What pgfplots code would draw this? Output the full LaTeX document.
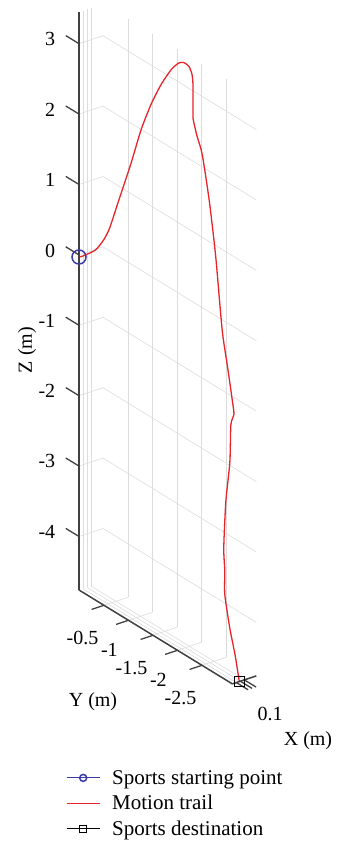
\documentclass[border=0pt]{standalone}
\usepackage{pgfplots}
\pgfplotsset{compat=1.18}
\usepackage{fontspec}
\setmainfont{Liberation Serif}
\definecolor{trailred}{HTML}{E8232A}
\definecolor{startblue}{HTML}{3B3BA8}
\definecolor{gridgray}{HTML}{DCDCDC}
\definecolor{axisgray}{HTML}{404040}
\begin{document}
\begin{tikzpicture}[font=\fontsize{20}{24}\selectfont]
\begin{axis}[
 x={(8000pt,2666.67pt)}, y={(-49pt,30pt)}, z={(0pt,70.4pt)},
 xmin=0.0985, xmax=0.1015, ymin=-3.12, ymax=0.01, zmin=-4.76, zmax=3.45,
 clip=false,
 xtick={0.099,0.0995,0.1}, xticklabels={,,0.1},
 ytick={-2.5,-2,-1.5,-1,-0.5}, yticklabels={-2.5,-2,-1.5,-1,-0.5},
 ztick={-4,-3,-2,-1,0,1,2,3}, zticklabels={-4,-3,-2,-1,0,1,2,3},
 xtick pos=left, ytick pos=left, ztick pos=left,
 grid=major, grid style={gridgray, line width=0.6pt},
 axis line style={draw=none},
 tick align=outside, major tick length=12pt,
 tick style={draw=none},
 xticklabel style={xshift=8pt, yshift=-15pt},
 yticklabel style={xshift=1pt, yshift=-14pt},
 zticklabel style={xshift=-10pt, yshift=-3pt},
 xlabel={X (m)}, ylabel={Y (m)}, zlabel={Z (m)},
 xlabel style={at={(axis cs:0.0985,0.01,-4.76)}, xshift=229pt, yshift=-151pt, anchor=center},
 ylabel style={at={(axis cs:0.0985,0.01,-4.76)}, xshift=14pt, yshift=-112pt, anchor=center},
 zlabel style={at={(axis cs:0.0985,0.01,-4.76)}, xshift=240pt, yshift=52pt, anchor=center},
 legend style={at={(axis cs:0.0985,0.01,-4.76)}, anchor=north west, xshift=-16pt, yshift=-176pt, draw=none, fill=none, row sep=5.5pt, column sep=10pt, font=\fontsize{21}{25}\selectfont},
 legend cell align=left,
 legend image code/.code={\draw[mark repeat=2,mark phase=2,#1] plot coordinates {(0cm,0cm) (0.58cm,0cm) (1.16cm,0cm)};},
 legend image post style={mark size=3.5pt, line width=1pt},
]
\addplot3[startblue, line width=1.5pt, mark=o, mark size=7pt, mark options={line width=1.5pt}] coordinates {(0.0985,0.01,-0.03)};
\addlegendentry{Sports starting point}
\addplot3[trailred, line width=1.3pt, smooth, tension=0.4] coordinates {
(0.0985,0.010,-0.03)
(0.09856,-0.063,0.014)
(0.09874,-0.283,0.184)
(0.09886,-0.430,0.382)
(0.09895,-0.540,0.595)
(0.09910,-0.703,1.055)
(0.09928,-0.923,1.666)
(0.09943,-1.106,2.219)
(0.09958,-1.289,2.659)
(0.09973,-1.473,3.015)
(0.09988,-1.656,3.297)
(0.10006,-1.772,3.426)
(0.10030,-1.836,3.45)
(0.10054,-1.900,3.415)
(0.10060,-1.953,3.322)
(0.10060,-1.973,3.19)
(0.10060,-1.973,2.948)
(0.10060,-1.973,2.706)
(0.10060,-1.994,2.644)
(0.10054,-2.067,2.491)
(0.10045,-2.186,2.291)
(0.10030,-2.357,1.697)
(0.10015,-2.507,1.013)
(0.10000,-2.615,0.396)
(0.09994,-2.688,-0.040)
(0.09985,-2.807,-0.47)
(0.09976,-2.926,-0.928)
(0.09976,-2.947,-1.051)
(0.09976,-2.884,-1.227)
(0.09970,-2.873,-1.757)
(0.09964,-2.800,-2.354)
(0.09958,-2.768,-3.022)
(0.09955,-2.794,-3.335)
(0.09952,-2.799,-3.666)
(0.09946,-2.913,-4.10)
(0.09940,-3.028,-4.42)
(0.09937,-3.12,-4.76)
};
\addlegendentry{Motion trail}
\addplot3[black, line width=1.2pt, mark=square, mark size=5pt] coordinates {(0.09937,-3.12,-4.76)};
\addlegendentry{Sports destination}
\draw[axisgray, line width=1.5pt] (axis cs:0.0985,0.01,-4.76) -- (axis cs:0.0985,0.01,3.45);
\draw[axisgray, line width=1.5pt] (axis cs:0.0985,0.01,-4.76) -- (axis cs:0.0985,-3.12,-4.76);
\draw[axisgray, line width=1.5pt] (axis cs:0.0985,-3.12,-4.76) -- (axis cs:0.1015,-3.12,-4.76);
\pgfplotsinvokeforeach{-4,-3,-2,-1,0,1,2,3}{\draw[axisgray, line width=1.3pt] (axis cs:0.0985,0.01,#1) -- (axis cs:0.0985,0.28,#1);}
\pgfplotsinvokeforeach{-2.5,-2,-1.5,-1,-0.5}{\draw[axisgray, line width=1.3pt] (axis cs:0.0985,#1,-4.76) -- (axis cs:0.09695,#1,-4.76);}
\pgfplotsinvokeforeach{0.099,0.0995,0.1}{\draw[axisgray, line width=1.3pt] (axis cs:#1,-3.12,-4.76) -- (axis cs:#1,-3.36,-4.76);}
\coordinate (O) at (axis cs:0.0985,0.01,-4.76);
\end{axis}
\pgfresetboundingbox
\path[use as bounding box] (O) ++(-79pt,-251pt) rectangle ++(337pt,841pt);
\end{tikzpicture}
\end{document}
